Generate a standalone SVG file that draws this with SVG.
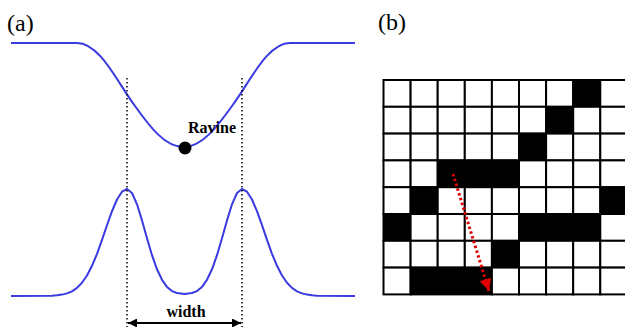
<svg xmlns="http://www.w3.org/2000/svg" width="625" height="327" viewBox="0 0 625 327">
<defs>
<style>
.lbl{font-family:"Liberation Serif","Times New Roman",serif;fill:#000}
.curve{fill:none;stroke:#3a3ae0;stroke-width:2;stroke-linejoin:round}
.guide{stroke:#000;stroke-width:1.5;stroke-dasharray:1.5 2.5;fill:none}
.cell{fill:#fff;stroke:#000;stroke-width:2}
.blk{fill:#000;stroke:#000;stroke-width:2}
</style>
<marker id="ah" viewBox="0 0 10 10" refX="10" refY="5" markerWidth="10" markerHeight="9" markerUnits="userSpaceOnUse" orient="auto-start-reverse">
<path d="M0,0 L10,5 L0,10 z" fill="#000"/>
</marker>
<marker id="rh" viewBox="0 0 10 10" refX="10" refY="5" markerWidth="14" markerHeight="12" markerUnits="userSpaceOnUse" orient="auto">
<path d="M0,0 L10,5 L0,10 z" fill="#e00000"/>
</marker>
</defs>
<rect width="625" height="327" fill="#fff"/>
<g id="panel-a">
<text class="lbl" x="7" y="31" font-size="24">(a)</text>
<path id="top-curve" class="curve" d="M11,43 H77 C100,43 117,82 135,106 C150,127 165,147 183.5,147 C202,147 217,127 232,106 C250,82 267,43 290,43 H355"/>
<polyline id="bottom-curve" class="curve" points="11,296 52,295.7 57,295.3 62,294.6 67,293.4 72,291.3 77,287.9 82,282.8 87,275.5 92,265.8 97,253.8 102,239.9 107,225.2 112,211.2 117,199.5 122,191.7 127,189 132,193 137,204.3 142,220.4 147,238.3 152,255.2 157,269.3 162,279.8 167,286.9 172,291.1 177,293 184.5,294 192,293 197,291.1 202,286.9 207,279.8 212,269.3 217,255.2 222,238.3 227,220.4 232,204.3 237,193 242,189 247,191.7 252,199.5 257,211.2 262,225.2 267,239.9 272,253.8 277,265.8 282,275.5 287,282.8 292,287.9 297,291.3 302,293.4 307,294.6 312,295.3 317,295.7 355,296"/>
<g id="guides">
<line class="guide" x1="127" y1="78" x2="127" y2="327"/>
<line class="guide" x1="242" y1="78" x2="242" y2="327"/>
</g>
<g id="ravine">
<circle cx="185" cy="148" r="6.5" fill="#000"/>
<text class="lbl" x="188" y="133" font-size="16" font-weight="bold">Ravine</text>
</g>
<g id="width">
<line x1="128" y1="323" x2="241" y2="323" stroke="#000" stroke-width="2" marker-start="url(#ah)" marker-end="url(#ah)"/>
<text class="lbl" x="186" y="317" font-size="16" font-weight="bold" text-anchor="middle">width</text>
</g>
</g>
<g id="panel-b">
<text class="lbl" x="378" y="30" font-size="24">(b)</text>
<g id="grid" transform="translate(383.5,80)">
<g id="row0"><rect class="cell" x="0" y="0" width="27.1" height="26.8"/><rect class="cell" x="27.1" y="0" width="27.1" height="26.8"/><rect class="cell" x="54.2" y="0" width="27.1" height="26.8"/><rect class="cell" x="81.3" y="0" width="27.1" height="26.8"/><rect class="cell" x="108.4" y="0" width="27.1" height="26.8"/><rect class="cell" x="135.5" y="0" width="27.1" height="26.8"/><rect class="cell" x="162.6" y="0" width="27.1" height="26.8"/><rect class="blk" x="189.7" y="0" width="27.1" height="26.8"/><rect class="cell" x="216.8" y="0" width="27.1" height="26.8"/></g>
<g id="row1"><rect class="cell" x="0" y="26.8" width="27.1" height="26.8"/><rect class="cell" x="27.1" y="26.8" width="27.1" height="26.8"/><rect class="cell" x="54.2" y="26.8" width="27.1" height="26.8"/><rect class="cell" x="81.3" y="26.8" width="27.1" height="26.8"/><rect class="cell" x="108.4" y="26.8" width="27.1" height="26.8"/><rect class="cell" x="135.5" y="26.8" width="27.1" height="26.8"/><rect class="blk" x="162.6" y="26.8" width="27.1" height="26.8"/><rect class="cell" x="189.7" y="26.8" width="27.1" height="26.8"/><rect class="cell" x="216.8" y="26.8" width="27.1" height="26.8"/></g>
<g id="row2"><rect class="cell" x="0" y="53.6" width="27.1" height="26.8"/><rect class="cell" x="27.1" y="53.6" width="27.1" height="26.8"/><rect class="cell" x="54.2" y="53.6" width="27.1" height="26.8"/><rect class="cell" x="81.3" y="53.6" width="27.1" height="26.8"/><rect class="cell" x="108.4" y="53.6" width="27.1" height="26.8"/><rect class="blk" x="135.5" y="53.6" width="27.1" height="26.8"/><rect class="cell" x="162.6" y="53.6" width="27.1" height="26.8"/><rect class="cell" x="189.7" y="53.6" width="27.1" height="26.8"/><rect class="cell" x="216.8" y="53.6" width="27.1" height="26.8"/></g>
<g id="row3"><rect class="cell" x="0" y="80.4" width="27.1" height="26.8"/><rect class="cell" x="27.1" y="80.4" width="27.1" height="26.8"/><rect class="blk" x="54.2" y="80.4" width="81.3" height="26.8"/><rect class="cell" x="135.5" y="80.4" width="27.1" height="26.8"/><rect class="cell" x="162.6" y="80.4" width="27.1" height="26.8"/><rect class="cell" x="189.7" y="80.4" width="27.1" height="26.8"/><rect class="cell" x="216.8" y="80.4" width="27.1" height="26.8"/></g>
<g id="row4"><rect class="cell" x="0" y="107.2" width="27.1" height="26.8"/><rect class="blk" x="27.1" y="107.2" width="27.1" height="26.8"/><rect class="cell" x="54.2" y="107.2" width="27.1" height="26.8"/><rect class="cell" x="81.3" y="107.2" width="27.1" height="26.8"/><rect class="cell" x="108.4" y="107.2" width="27.1" height="26.8"/><rect class="cell" x="135.5" y="107.2" width="27.1" height="26.8"/><rect class="cell" x="162.6" y="107.2" width="27.1" height="26.8"/><rect class="cell" x="189.7" y="107.2" width="27.1" height="26.8"/><rect class="blk" x="216.8" y="107.2" width="27.1" height="26.8"/></g>
<g id="row5"><rect class="blk" x="0" y="134" width="27.1" height="26.8"/><rect class="cell" x="27.1" y="134" width="27.1" height="26.8"/><rect class="cell" x="54.2" y="134" width="27.1" height="26.8"/><rect class="cell" x="81.3" y="134" width="27.1" height="26.8"/><rect class="cell" x="108.4" y="134" width="27.1" height="26.8"/><rect class="blk" x="135.5" y="134" width="81.3" height="26.8"/><rect class="cell" x="216.8" y="134" width="27.1" height="26.8"/></g>
<g id="row6"><rect class="cell" x="0" y="160.8" width="27.1" height="26.8"/><rect class="cell" x="27.1" y="160.8" width="27.1" height="26.8"/><rect class="cell" x="54.2" y="160.8" width="27.1" height="26.8"/><rect class="cell" x="81.3" y="160.8" width="27.1" height="26.8"/><rect class="blk" x="108.4" y="160.8" width="27.1" height="26.8"/><rect class="cell" x="135.5" y="160.8" width="27.1" height="26.8"/><rect class="cell" x="162.6" y="160.8" width="27.1" height="26.8"/><rect class="cell" x="189.7" y="160.8" width="27.1" height="26.8"/><rect class="cell" x="216.8" y="160.8" width="27.1" height="26.8"/></g>
<g id="row7"><rect class="cell" x="0" y="187.6" width="27.1" height="26.8"/><rect class="blk" x="27.1" y="187.6" width="81.3" height="26.8"/><rect class="cell" x="108.4" y="187.6" width="27.1" height="26.8"/><rect class="cell" x="135.5" y="187.6" width="27.1" height="26.8"/><rect class="cell" x="162.6" y="187.6" width="27.1" height="26.8"/><rect class="cell" x="189.7" y="187.6" width="27.1" height="26.8"/><rect class="cell" x="216.8" y="187.6" width="27.1" height="26.8"/></g>
</g>
<g id="path-arrow">
<line x1="453" y1="174" x2="489" y2="291" stroke="#e00000" stroke-width="3" stroke-dasharray="2.5 2.5" marker-end="url(#rh)"/>
</g>
</g>
</svg>
